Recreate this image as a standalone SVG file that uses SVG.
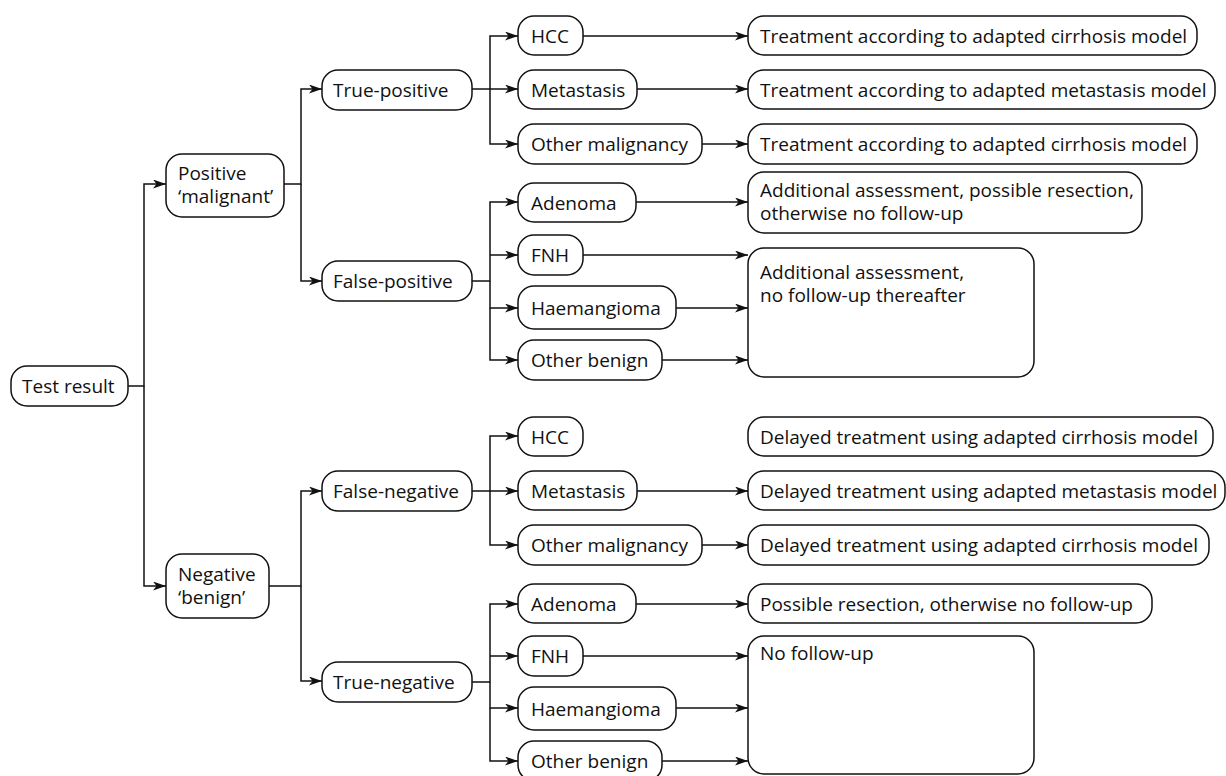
<svg xmlns="http://www.w3.org/2000/svg" width="1226" height="776" viewBox="0 0 1226 776">
<style>
.n rect{fill:#fff;stroke:#111;stroke-width:1.5}
text{font-family:"Open Sans","Noto Sans","DejaVu Sans",sans-serif;font-size:19px;fill:#111}
.c path{fill:none;stroke:#111;stroke-width:1.5}
</style>
<defs>
<marker id="ah" viewBox="0 0 13 9" refX="13" refY="4.5" markerWidth="13" markerHeight="9" markerUnits="userSpaceOnUse" orient="auto">
<path d="M0,0 L13,4.5 L0,9 L3.5,4.5 z" fill="#111"/>
</marker>
</defs>
<rect width="1226" height="776" fill="#fff"/>
<g class="c">
<path d="M128,386 H144 V184 H166" marker-end="url(#ah)"/>
<path d="M144,386 V586 H166" marker-end="url(#ah)"/>
<path d="M284,184 H301 V89 H322" marker-end="url(#ah)"/>
<path d="M301,184 V281 H322" marker-end="url(#ah)"/>
<path d="M472,89 H490 V36 H518" marker-end="url(#ah)"/>
<path d="M490,89 H518" marker-end="url(#ah)"/>
<path d="M490,89 V144 H518" marker-end="url(#ah)"/>
<path d="M583,36 H748" marker-end="url(#ah)"/>
<path d="M637,89 H748" marker-end="url(#ah)"/>
<path d="M702,144 H748" marker-end="url(#ah)"/>
<path d="M472,281 H490 V202 H518" marker-end="url(#ah)"/>
<path d="M490,255 H518" marker-end="url(#ah)"/>
<path d="M490,281 V308 H518" marker-end="url(#ah)"/>
<path d="M490,308 V360 H518" marker-end="url(#ah)"/>
<path d="M636,202 H748" marker-end="url(#ah)"/>
<path d="M583,255 H748" marker-end="url(#ah)"/>
<path d="M676,308 H748" marker-end="url(#ah)"/>
<path d="M662,360 H748" marker-end="url(#ah)"/>
<path d="M269,586 H301 V491 H322" marker-end="url(#ah)"/>
<path d="M301,586 V681 H322" marker-end="url(#ah)"/>
<path d="M472,491 H490 V436 H518" marker-end="url(#ah)"/>
<path d="M490,491 H518" marker-end="url(#ah)"/>
<path d="M490,491 V545 H518" marker-end="url(#ah)"/>
<path d="M637,491 H748" marker-end="url(#ah)"/>
<path d="M702,545 H748" marker-end="url(#ah)"/>
<path d="M472,682 H490 V604 H518" marker-end="url(#ah)"/>
<path d="M490,656 H518" marker-end="url(#ah)"/>
<path d="M490,682 V708 H518" marker-end="url(#ah)"/>
<path d="M490,708 V761 H518" marker-end="url(#ah)"/>
<path d="M636,604 H748" marker-end="url(#ah)"/>
<path d="M583,656 H748" marker-end="url(#ah)"/>
<path d="M676,708 H748" marker-end="url(#ah)"/>
<path d="M662,761 H748" marker-end="url(#ah)"/>
</g>
<g id="test-result" class="n"><rect x="11" y="366" width="117" height="40" rx="16"/><text x="22" y="393">Test result</text></g>
<g id="positive" class="n"><rect x="166" y="154" width="118" height="63" rx="16"/><text x="178" y="180">Positive</text><text x="178" y="203">‘malignant’</text></g>
<g id="negative" class="n"><rect x="166" y="554" width="103" height="64" rx="16"/><text x="178" y="581">Negative</text><text x="178" y="604">‘benign’</text></g>
<g id="true-positive" class="n"><rect x="322" y="70" width="150" height="40" rx="16"/><text x="333" y="97">True-positive</text></g>
<g id="false-positive" class="n"><rect x="322" y="261" width="150" height="40" rx="16"/><text x="333" y="288">False-positive</text></g>
<g id="false-negative" class="n"><rect x="322" y="471" width="150" height="40" rx="16"/><text x="333" y="498">False-negative</text></g>
<g id="true-negative" class="n"><rect x="322" y="662" width="150" height="40" rx="16"/><text x="333" y="689">True-negative</text></g>
<g id="tp-hcc" class="n"><rect x="518" y="16" width="65" height="39" rx="16"/><text x="531" y="43">HCC</text></g>
<g id="tp-metastasis" class="n"><rect x="518" y="70" width="119" height="39" rx="16"/><text x="531" y="97">Metastasis</text></g>
<g id="tp-other" class="n"><rect x="518" y="124" width="184" height="40" rx="16"/><text x="531" y="151">Other malignancy</text></g>
<g id="fp-adenoma" class="n"><rect x="518" y="183" width="118" height="39" rx="16"/><text x="531" y="210">Adenoma</text></g>
<g id="fp-fnh" class="n"><rect x="518" y="235" width="65" height="40" rx="16"/><text x="531" y="262">FNH</text></g>
<g id="fp-haem" class="n"><rect x="518" y="286" width="158" height="43" rx="16"/><text x="531" y="315">Haemangioma</text></g>
<g id="fp-other" class="n"><rect x="518" y="340" width="144" height="40" rx="16"/><text x="531" y="367">Other benign</text></g>
<g id="fn-hcc" class="n"><rect x="518" y="417" width="65" height="39" rx="16"/><text x="531" y="444">HCC</text></g>
<g id="fn-metastasis" class="n"><rect x="518" y="471" width="119" height="39" rx="16"/><text x="531" y="498">Metastasis</text></g>
<g id="fn-other" class="n"><rect x="518" y="525" width="184" height="40" rx="16"/><text x="531" y="552">Other malignancy</text></g>
<g id="tn-adenoma" class="n"><rect x="518" y="584" width="118" height="39" rx="16"/><text x="531" y="611">Adenoma</text></g>
<g id="tn-fnh" class="n"><rect x="518" y="636" width="65" height="40" rx="16"/><text x="531" y="663">FNH</text></g>
<g id="tn-haem" class="n"><rect x="518" y="687" width="158" height="43" rx="16"/><text x="531" y="716">Haemangioma</text></g>
<g id="tn-other" class="n"><rect x="518" y="741" width="144" height="40" rx="16"/><text x="531" y="768">Other benign</text></g>
<g id="o-tp-hcc" class="n"><rect x="748" y="16" width="449" height="39" rx="16"/><text x="760" y="43">Treatment according to adapted cirrhosis model</text></g>
<g id="o-tp-met" class="n"><rect x="748" y="70" width="467" height="39" rx="16"/><text x="760" y="97">Treatment according to adapted metastasis model</text></g>
<g id="o-tp-other" class="n"><rect x="748" y="124" width="449" height="40" rx="16"/><text x="760" y="151">Treatment according to adapted cirrhosis model</text></g>
<g id="o-fp-adenoma" class="n"><rect x="748" y="172" width="394" height="61" rx="16"/><text x="760" y="197">Additional assessment, possible resection,</text><text x="760" y="220">otherwise no follow-up</text></g>
<g id="o-fp-benign" class="n"><rect x="748" y="248" width="286" height="129" rx="16"/><text x="760" y="279">Additional assessment,</text><text x="760" y="302">no follow-up thereafter</text></g>
<g id="o-fn-hcc" class="n"><rect x="748" y="417" width="465" height="39" rx="16"/><text x="760" y="444">Delayed treatment using adapted cirrhosis model</text></g>
<g id="o-fn-met" class="n"><rect x="748" y="471" width="477" height="39" rx="16"/><text x="760" y="498">Delayed treatment using adapted metastasis model</text></g>
<g id="o-fn-other" class="n"><rect x="748" y="525" width="461" height="40" rx="16"/><text x="760" y="552">Delayed treatment using adapted cirrhosis model</text></g>
<g id="o-tn-adenoma" class="n"><rect x="748" y="584" width="404" height="39" rx="16"/><text x="760" y="611">Possible resection, otherwise no follow-up</text></g>
<g id="o-tn-benign" class="n"><rect x="748" y="636" width="286" height="138" rx="16"/><text x="760" y="660">No follow-up</text></g>
</svg>
